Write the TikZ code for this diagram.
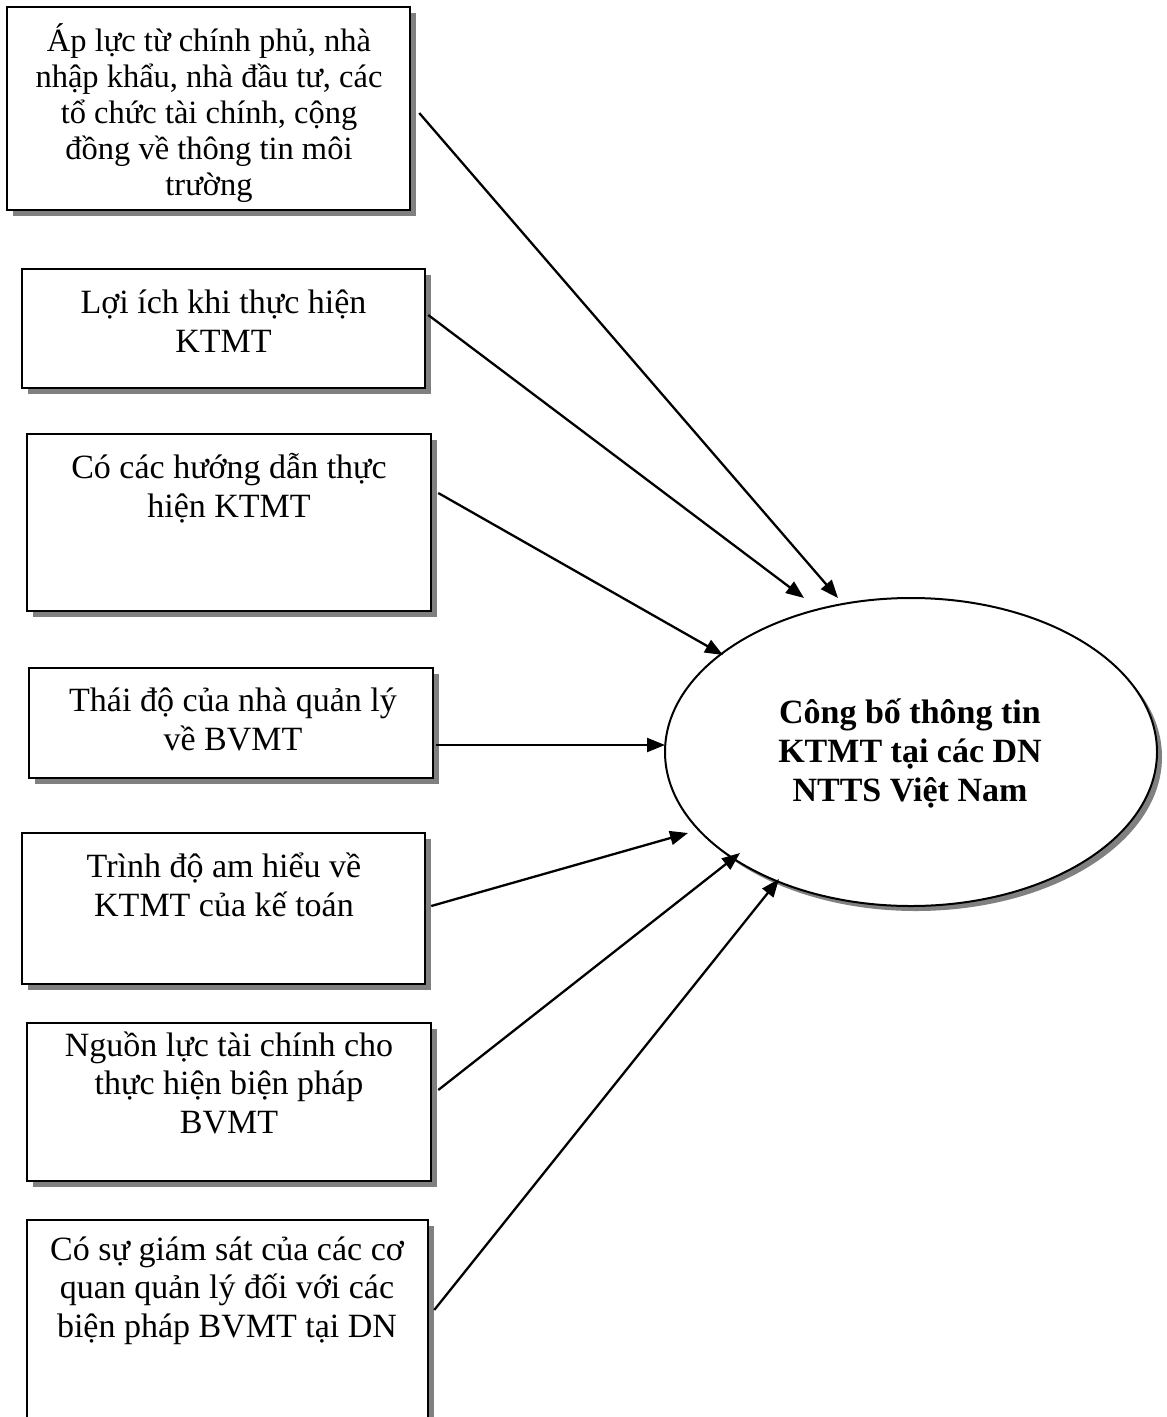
\documentclass[tikz,border=0pt]{standalone}
\usepackage{fontspec}
\setmainfont{Liberation Serif}
\usetikzlibrary{arrows.meta,shadows,shapes.geometric,calc}
\tikzset{
  factor/.style={draw=black, line width=2.5pt, fill=white, inner sep=0pt,
    drop shadow={shadow xshift=6pt, shadow yshift=-6pt, fill=black!50, opacity=1}},
  lbl/.style={inner sep=0pt, align=center, anchor=base,
    font=\fontsize{34}{38.5}\selectfont},
  goalnode/.style={ellipse, draw=black, line width=2pt, fill=white, inner sep=0pt,
    minimum width=492pt, minimum height=308pt,
    drop shadow={shadow xshift=5pt, shadow yshift=-5pt, fill=black!50, opacity=1}},
  arr/.style={line width=2.3pt, -{Triangle[length=18pt,width=14pt]}}
}
\begin{document}
\begin{tikzpicture}[x=1pt,y=-1pt]
\path[use as bounding box, clip] (0,0) rectangle (1167,1417);
\fill[white] (0,0) rectangle (1167,1417);

% boxes
\node[factor, minimum width=403pt, minimum height=203pt] (b1) at (208.5,108.5) {};
\node[factor, minimum width=403pt, minimum height=119pt] (b2) at (223.5,328.5) {};
\node[factor, minimum width=404pt, minimum height=177pt] (b3) at (229,522.5) {};
\node[factor, minimum width=404pt, minimum height=110pt] (b4) at (231,723) {};
\node[factor, minimum width=403pt, minimum height=151pt] (b5) at (223.5,908.5) {};
\node[factor, minimum width=404pt, minimum height=158pt] (b6) at (229,1102) {};
\node[factor, minimum width=401pt, minimum height=240pt] (b7) at (227.5,1340) {};

% texts (anchor = baseline of the last line)
\node[lbl, font=\fontsize{32.5}{36}\selectfont] (l1) at (209,195) {Áp lực từ chính phủ, nhà\\nhập khẩu, nhà đầu tư, các\\tổ chức tài chính, cộng\\đồng về thông tin môi\\trường};
\node[lbl] (l2) at (223.5,352) {Lợi ích khi thực hiện\\KTMT};
\node[lbl] (l3) at (229,517) {Có các hướng dẫn thực\\hiện KTMT};
\node[lbl] (l4) at (233,750) {Thái độ của nhà quản lý\\về BVMT};
\node[lbl] (l5) at (224,916) {Trình độ am hiểu về\\KTMT của kế toán};
\node[lbl] (l6) at (229,1133) {Nguồn lực tài chính cho\\thực hiện biện pháp\\BVMT};
\node[lbl] (l7) at (227,1337) {Có sự giám sát của các cơ\\quan quản lý đối với các\\biện pháp BVMT tại DN};

% goal ellipse
\node[goalnode] (goal) at (911,752) {};
\node[lbl, font=\fontsize{34}{39}\selectfont\bfseries] (gl) at (910,801) {Công bố thông tin\\KTMT tại các DN\\NTTS Việt Nam};

% arrow ends
\coordinate (t1) at ($(goal.center)+(-73,-154)$);
\coordinate (t2) at ($(goal.center)+(-107,-154)$);
\coordinate (t3) at ($(goal.center)+(-188,-97)$);
\coordinate (t4) at ($(goal.center)+(-246,-7)$);
\coordinate (t5) at ($(goal.center)+(-223,81)$);
\coordinate (t6) at ($(goal.center)+(-171,101)$);
\coordinate (t7) at ($(goal.center)+(-132,127)$);

\draw[arr] ($(b1.east)+(8,4.5)$) -- (t1);
\draw[arr] ($(b2.east)+(2,-13.5)$) -- (t2);
\draw[arr] ($(b3.east)+(6,-29.5)$) -- (t3);
\draw[arr] ($(b4.east)+(2,22)$) -- (t4);
\draw[arr] ($(b5.east)+(5,-2.5)$) -- (t5);
\draw[arr] ($(b6.east)+(6,-12)$) -- (t6);
\draw[arr] ($(b7.east)+(5,-30)$) -- (t7);
\end{tikzpicture}
\end{document}
